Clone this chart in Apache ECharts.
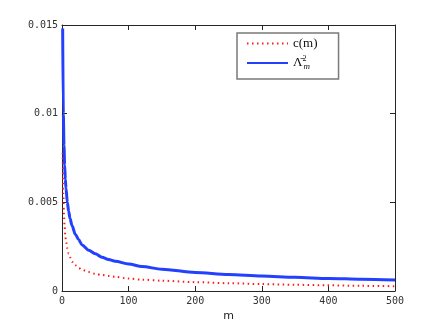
<!DOCTYPE html>
<html><head><meta charset="utf-8">
<script src="https://cdn.jsdelivr.net/npm/echarts@6/dist/echarts.min.js"></script>
<style>html,body{margin:0;padding:0;background:#fff}#c{width:436px;height:328px}</style>
</head><body><div id="c"></div>
<script>
const mValues = [1,2,3,4,5,6,8,10,12,15,20,25,30,40,50,60,70,80,100,120,150,200,250,300,350,400,450,500];
const cValues = [0.0078,0.0055,0.0042,0.0036,0.0031,0.0028,0.0024,0.0021,0.0019,0.00165,0.00145,0.0013,0.0012,0.00107,0.00097,0.0009,0.00085,0.0008,0.0007,0.00064,0.00058,0.0005,0.00044,0.00039,0.00035,0.00032,0.00029,0.00027];
const lambdaValues = [0.0148,0.0100,0.0082,0.0071,0.0063,0.0058,0.0050,0.0045,0.0041,0.0037,0.0032,0.0029,0.0026,0.0023,0.0021,0.0019,0.00178,0.00168,0.00152,0.00138,0.00123,0.00105,0.00093,0.00084,0.00077,0.00071,0.00066,0.00062];
const xTicks = [0,100,200,300,400,500];
const yTickLabels = {0:'0',0.005:'0.005',0.01:'0.01',0.015:'0.015'};

const chart = echarts.init(document.getElementById('c'));
const axisCol = '#262626';
const mono = 'DejaVu Sans Mono';
function ax(extra){
  return Object.assign({
    axisLine:{show:true,onZero:false,lineStyle:{color:axisCol,width:1}},
    axisTick:{show:true,inside:true,length:5,lineStyle:{color:axisCol}},
    splitLine:{show:false}
  },extra);
}
chart.setOption({
  animation:false,
  grid:{left:62,right:41,top:25,bottom:37,containLabel:false},
  xAxis:[
    ax({type:'value',min:0,max:500,interval:100,position:'bottom',
      name:'m',nameLocation:'middle',nameGap:19,
      nameTextStyle:{fontFamily:'DejaVu Sans',fontSize:11,color:'#222'},
      axisLabel:{fontFamily:mono,fontSize:10,color:'#333',margin:5}}),
    ax({type:'value',min:0,max:500,interval:100,position:'top',axisLabel:{show:false}})
  ],
  yAxis:[
    ax({type:'value',min:0,max:0.015,interval:0.005,position:'left',
      axisLabel:{fontFamily:mono,fontSize:10,color:'#333',margin:4,
        formatter:v=>{const k=Math.round(v*1000)/1000;return yTickLabels[k]!==undefined?yTickLabels[k]:'';}}}),
    ax({type:'value',min:0,max:0.015,interval:0.005,position:'right',axisLabel:{show:false}})
  ],
  legend:{
    show:true,orient:'vertical',left:237,top:33,
    backgroundColor:'#fff',borderColor:'#7a7a7a',borderWidth:1.5,
    padding:[4,21,8,9],itemGap:5,itemWidth:41,itemHeight:14,
    itemStyle:{opacity:0},
    data:[{name:'c(m)',itemStyle:{opacity:0}},{name:'Lambda',itemStyle:{opacity:0}}],
    formatter:function(n){ if(n==='c(m)') return '{t|c(m)}'; return '{t|Λ\u0304}{s|2}{u|m}'; },
    textStyle:{
      rich:{
        t:{fontFamily:'Liberation Serif',fontSize:13,color:'#111',lineHeight:16},
        s:{fontFamily:'Liberation Serif',fontSize:8,color:'#111',verticalAlign:'top',width:1,lineHeight:9},
        u:{fontFamily:'Liberation Serif',fontSize:9,fontStyle:'italic',color:'#111',verticalAlign:'bottom',lineHeight:9}
      }
    }
  },
  series:[
    {name:'c(m)',type:'line',symbol:'none',xAxisIndex:0,yAxisIndex:0,showSymbol:false,smooth:0.3,smoothMonotone:'x',
      data:mValues.map((m,i)=>[m,cValues[i]]),
      lineStyle:{color:'#ff1a1a',width:2,type:[1.5,3.5]},itemStyle:{color:'#ff1a1a'}},
    {name:'Lambda',type:'line',symbol:'none',xAxisIndex:0,yAxisIndex:0,showSymbol:false,smooth:0.3,smoothMonotone:'x',
      data:mValues.map((m,i)=>[m,lambdaValues[i]]),
      lineStyle:{color:'#2340ff',width:3},itemStyle:{color:'#2340ff'}}
  ]
});
</script></body></html>
